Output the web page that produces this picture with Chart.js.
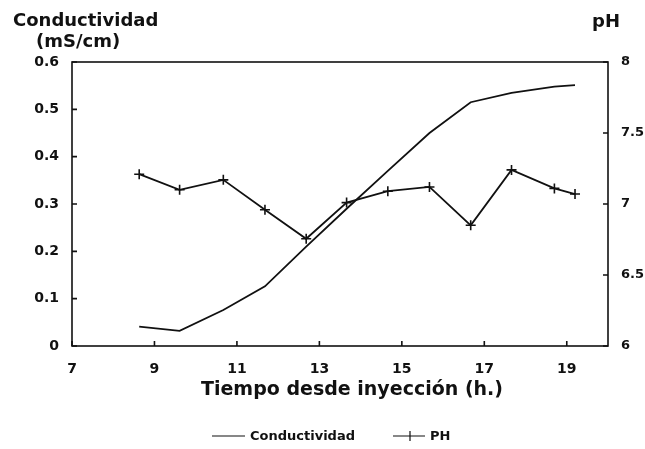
<!DOCTYPE html>
<html lang="es">
<head>
<meta charset="UTF-8">
<title>Conductividad y pH</title>
<script src="https://cdn.jsdelivr.net/npm/chart.js"></script>
<style>
  html, body { margin: 0; padding: 0; background: #fff; }
  #wrap { position: relative; width: 645px; height: 449px; }
</style>
</head>
<body>
<div id="wrap"><canvas id="grafico"></canvas></div>
<script>
// datos
const tiempos = [8.63, 9.61, 10.67, 11.68, 12.68, 13.66, 14.66, 15.67, 16.67, 17.66, 18.7, 19.2];
const conductividad = [0.041, 0.032, 0.076, 0.126, 0.21, 0.29, 0.37, 0.45, 0.515, 0.535, 0.548, 0.551];
const ph = [7.21, 7.10, 7.17, 6.96, 6.755, 7.01, 7.09, 7.12, 6.85, 7.24, 7.11, 7.07];

const ticksX = [7, 9, 11, 13, 15, 17, 19];
const ticksCond = [0, 0.1, 0.2, 0.3, 0.4, 0.5, 0.6];
const ticksPh = [6, 6.5, 7, 7.5, 8];

const fuente = 'DejaVu Sans';
const negro = '#111';

function puntos(xs, ys) {
  return xs.map((x, i) => ({ x: x, y: ys[i] }));
}

function fijarTicks(lista) {
  return function (scale) {
    scale.ticks = lista.map(v => ({ value: v }));
  };
}

// marco, marcas hacia dentro, titulos y leyenda
const decoracion = {
  id: 'decoracion',
  afterDraw(chart) {
    const ctx = chart.ctx;
    const a = chart.chartArea;
    const sx = chart.scales.x, sc = chart.scales.yCond, sp = chart.scales.yPh;
    ctx.save();
    ctx.strokeStyle = negro;
    ctx.lineWidth = 1.6;
    ctx.strokeRect(a.left, a.top, a.right - a.left, a.bottom - a.top);

    ctx.beginPath();
    ticksX.forEach(v => {
      const x = sx.getPixelForValue(v);
      ctx.moveTo(x, a.bottom); ctx.lineTo(x, a.bottom - 5);
    });
    ticksCond.forEach(v => {
      const y = sc.getPixelForValue(v);
      ctx.moveTo(a.left, y); ctx.lineTo(a.left + 5, y);
    });
    ticksPh.forEach(v => {
      const y = sp.getPixelForValue(v);
      ctx.moveTo(a.right, y); ctx.lineTo(a.right - 5, y);
    });
    ctx.stroke();

    ctx.fillStyle = negro;
    ctx.textBaseline = 'alphabetic';
    ctx.font = 'bold 18px ' + fuente;
    ctx.textAlign = 'left';
    ctx.fillText('Conductividad', 13, 26);
    ctx.fillText('(mS/cm)', 36, 47);
    ctx.fillText('pH', 592, 27);

    ctx.font = 'bold 19px ' + fuente;
    ctx.textAlign = 'center';
    ctx.fillText('Tiempo desde inyección (h.)', 352, 395);

    // leyenda
    const yl = 436;
    ctx.lineWidth = 1.2;
    ctx.beginPath();
    ctx.moveTo(212, yl); ctx.lineTo(245, yl);
    ctx.moveTo(393, yl); ctx.lineTo(425, yl);
    ctx.moveTo(410, yl - 5); ctx.lineTo(410, yl + 5);
    ctx.stroke();
    ctx.font = 'bold 13px ' + fuente;
    ctx.textAlign = 'left';
    ctx.textBaseline = 'middle';
    ctx.fillText(chart.data.datasets[0].label, 250, yl + 1);
    ctx.fillText(chart.data.datasets[1].label, 430, yl + 1);
    ctx.restore();
  }
};

new Chart(document.getElementById('grafico'), {
  type: 'line',
  data: {
    datasets: [
      {
        label: 'Conductividad',
        data: puntos(tiempos, conductividad),
        yAxisID: 'yCond',
        borderColor: negro,
        borderWidth: 1.8,
        pointRadius: 0,
        tension: 0
      },
      {
        label: 'PH',
        data: puntos(tiempos, ph),
        yAxisID: 'yPh',
        borderColor: negro,
        borderWidth: 1.8,
        pointStyle: 'cross',
        pointRadius: 5,
        pointBorderWidth: 1.6,
        pointBorderColor: negro,
        tension: 0
      }
    ]
  },
  options: {
    responsive: true,
    maintainAspectRatio: false,
    animation: false,
    layout: { padding: { top: 62, left: 0, right: 0, bottom: 0 } },
    plugins: {
      legend: { display: false },
      tooltip: { enabled: false }
    },
    scales: {
      x: {
        type: 'linear',
        min: 7,
        max: 20,
        afterBuildTicks: fijarTicks(ticksX),
        afterFit: s => { s.height = 103; },
        grid: { display: false },
        border: { display: false },
        ticks: {
          color: negro,
          padding: 7,
          maxRotation: 0,
          font: { family: fuente, weight: 'bold', size: 14 },
          callback: v => String(v)
        }
      },
      yCond: {
        type: 'linear',
        position: 'left',
        min: 0,
        max: 0.6,
        afterBuildTicks: fijarTicks(ticksCond),
        afterFit: s => { s.width = 72; },
        grid: { display: false },
        border: { display: false },
        ticks: {
          color: negro,
          padding: 5,
          font: { family: fuente, weight: 'bold', size: 14 },
          callback: v => String(Math.round(v * 10) / 10)
        }
      },
      yPh: {
        type: 'linear',
        position: 'right',
        min: 6,
        max: 8,
        afterBuildTicks: fijarTicks(ticksPh),
        afterFit: s => { s.width = 37; },
        grid: { display: false },
        border: { display: false },
        ticks: {
          color: negro,
          padding: 5,
          font: { family: fuente, weight: 'bold', size: 13 },
          callback: v => String(v)
        }
      }
    }
  },
  plugins: [decoracion]
});
</script>
</body>
</html>
